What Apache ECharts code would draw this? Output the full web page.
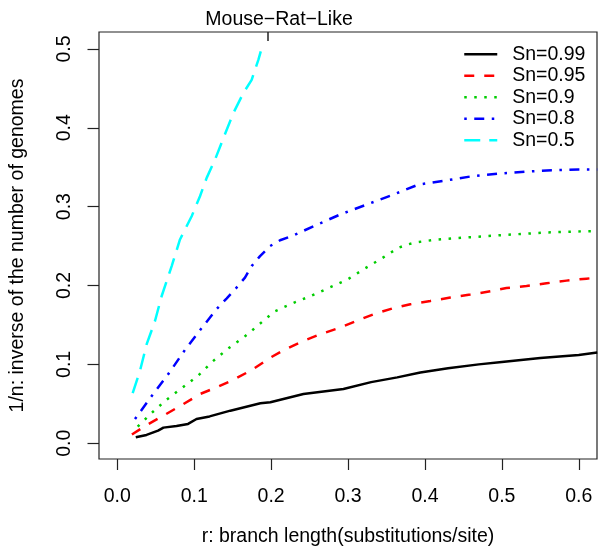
<!DOCTYPE html>
<html>
<head>
<meta charset="utf-8">
<script src="https://cdn.jsdelivr.net/npm/echarts@6/dist/echarts.min.js"></script>
<style>
  html, body { margin: 0; padding: 0; background: #fff; }
  #main { width: 598px; height: 552px; }
</style>
</head>
<body>
<div id="main"></div>
<script>
// values, [r, 1/n]
var sn099 = [[0.024,0.0075],[0.038,0.0105],[0.053,0.016],[0.06,0.0198],[0.077,0.0219],[0.092,0.0245],[0.103,0.0307],
  [0.12,0.034],[0.147,0.0413],[0.186,0.0506],[0.199,0.0519],[0.242,0.0624],[0.294,0.0687],[0.33,0.0775],[0.364,0.0835],
  [0.394,0.0898],[0.43,0.0952],[0.47,0.1],[0.5,0.103],[0.55,0.108],[0.6,0.112],[0.624,0.115]];
var sn095 = [[0.019,0.011],[0.038,0.023],[0.06,0.035],[0.086,0.0497],[0.1075,0.0624],[0.129,0.0708],[0.151,0.0805],
  [0.175,0.093],[0.199,0.1085],[0.216,0.118],[0.242,0.1298],[0.264,0.1382],[0.287,0.1458],[0.311,0.1551],[0.333,0.1635],
  [0.357,0.1707],[0.381,0.1762],[0.407,0.1804],[0.433,0.1847],[0.459,0.1885],[0.485,0.1926],[0.506,0.1968],[0.532,0.1993],
  [0.558,0.2028],[0.584,0.2062],[0.61,0.2087],[0.624,0.21]];
var sn09 = [[0.0265,0.021],[0.045,0.0387],[0.064,0.0552],[0.0845,0.0703],[0.1054,0.086],[0.124,0.1037],[0.144,0.12],
  [0.165,0.1348],[0.1847,0.1509],[0.2042,0.167],[0.228,0.1775],[0.2528,0.1872],[0.2766,0.1977],[0.2996,0.2078],
  [0.3221,0.2217],[0.3438,0.2344],[0.3654,0.2479],[0.3776,0.2521],[0.3901,0.255],[0.4161,0.2584],[0.4544,0.261],
  [0.5064,0.2643],[0.5584,0.2673],[0.6104,0.2689],[0.624,0.269]];
var sn08 = [[0.023,0.0307],[0.045,0.0602],[0.0672,0.0889],[0.088,0.1184],[0.1075,0.1433],[0.129,0.1699],[0.142,0.1835],
  [0.155,0.1973],[0.166,0.21],[0.1747,0.2246],[0.1856,0.2373],[0.1986,0.25],[0.2116,0.2574],[0.2289,0.2635],[0.2593,0.277],
  [0.2896,0.29],[0.3243,0.3027],[0.3589,0.3153],[0.3914,0.328],[0.4261,0.333],[0.4608,0.3385],[0.4955,0.3419],
  [0.5301,0.3444],[0.5649,0.3461],[0.5995,0.347],[0.624,0.347]];
var sn05 = [[0.02,0.0636],[0.0295,0.0918],[0.0382,0.1256],[0.049,0.155],[0.0577,0.1867],[0.0707,0.2246],[0.0815,0.2584],
  [0.0967,0.2879],[0.1075,0.3132],[0.1162,0.3365],[0.127,0.3596],[0.1388,0.389],[0.1509,0.4187],[0.1638,0.444],
  [0.1747,0.4608],[0.1834,0.4861],[0.1877,0.5009]];

var seriesNames = ['Sn=0.99','Sn=0.95','Sn=0.9','Sn=0.8','Sn=0.5'];
var xTicks = [0, 0.1, 0.2, 0.3, 0.4, 0.5, 0.6];
var yTicks = [0, 0.1, 0.2, 0.3, 0.4, 0.5];
var markR = [0.196];
var markLabel = 'Mouse\u2212Rat\u2212Like';

var font = 'Liberation Sans, Arial, Helvetica, sans-serif';
var fs = 19.5;
var colors = ['#000000','#ff0000','#00cd00','#0000ff','#00ffff'];
var dashes = ['solid',[10,10],[2.5,7.5],[2.5,7.5,10,7.5],[16,9]];
var allData = [sn099, sn095, sn09, sn08, sn05];

var myChart = echarts.init(document.getElementById('main'));

var series = [];
for (var i = 0; i < allData.length; i++) {
    series.push({
        name: seriesNames[i],
        type: 'line',
        data: allData[i],
        symbol: 'none',
        clip: true,
        lineStyle: { color: colors[i], width: 2.5, type: dashes[i], cap: 'butt' },
        itemStyle: { color: colors[i] }
    });
}

option = {
    animation: false,
    backgroundColor: '#fff',
    textStyle: { fontFamily: font },
    grid: {
        left: 99, right: 1, top: 32, bottom: 92,
        show: true, borderColor: '#222', borderWidth: 1.2
    },
    legend: {
        orient: 'vertical',
        left: 463, top: 43.5,
        padding: 0,
        itemWidth: 33, itemHeight: 14, itemGap: 0,
        data: seriesNames,
        itemStyle: { opacity: 0 },
        lineStyle: { width: 2.5 },
        textStyle: { fontSize: fs, color: '#000', fontFamily: font, lineHeight: 21.5, padding: [0, 0, 0, 10] }
    },
    xAxis: [{
        type: 'value',
        min: -0.0238, max: 0.6237,
        splitLine: { show: false },
        axisLine: { show: false, onZero: false },
        axisTick: { show: true, length: 11, customValues: xTicks, lineStyle: { color: '#222', width: 1.2 } },
        axisLabel: { customValues: xTicks, margin: 28, fontSize: fs, color: '#000', fontFamily: font,
            formatter: function (v) { return v.toFixed(1); } },
        name: 'r: branch length(substitutions/site)',
        nameLocation: 'middle', nameGap: 68,
        nameTextStyle: { fontSize: fs, color: '#000', fontFamily: font }
    }, {
        type: 'value',
        position: 'top',
        min: -0.0238, max: 0.6237,
        splitLine: { show: false },
        axisLine: { show: false, onZero: false },
        axisTick: { show: true, inside: true, length: 9, customValues: markR, lineStyle: { color: '#222', width: 1.5 } },
        axisLabel: { customValues: markR, margin: 2, fontSize: fs, color: '#000', fontFamily: font,
            padding: [0, 0, 0, 22],
            formatter: function () { return markLabel; } }
    }],
    yAxis: {
        type: 'value',
        min: -0.02, max: 0.5215,
        splitLine: { show: false },
        axisLine: { show: false, onZero: false },
        axisTick: { show: true, length: 11.5, customValues: yTicks, lineStyle: { color: '#222', width: 1.2 } },
        axisLabel: { customValues: yTicks, rotate: 90, margin: 24, fontSize: fs, color: '#000', fontFamily: font,
            formatter: function (v) { return v.toFixed(1); } },
        name: '1/n: inverse of the number of genomes',
        nameLocation: 'middle', nameGap: 71,
        nameTextStyle: { fontSize: fs, color: '#000', fontFamily: font }
    },
    series: series
};
myChart.setOption(option);
</script>
</body>
</html>
